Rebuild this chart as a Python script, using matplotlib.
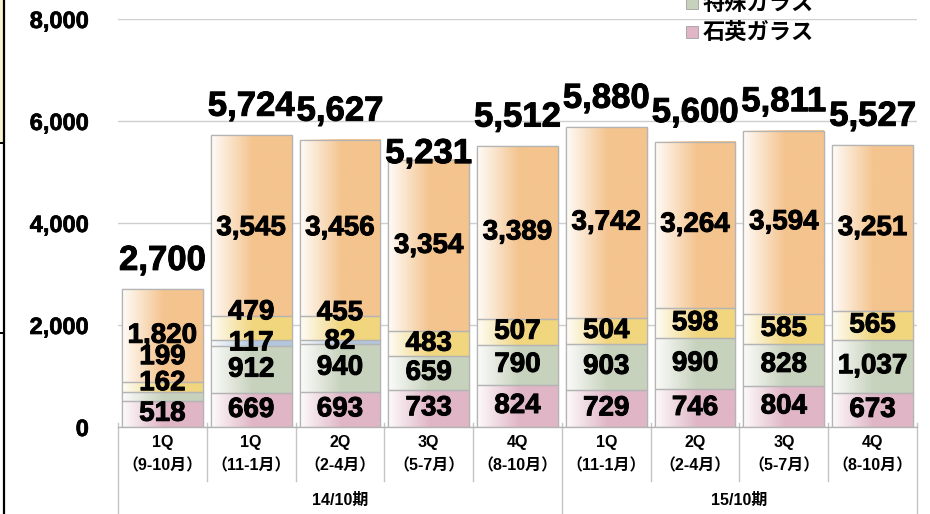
import numpy as np
import matplotlib
matplotlib.use("Agg")
import matplotlib.pyplot as plt
from matplotlib.lines import Line2D
from matplotlib.patches import Rectangle
from matplotlib.colors import to_rgb
import matplotlib.patheffects as pe

plt.rcParams['font.family'] = ['Liberation Sans', 'Noto Sans CJK JP', 'DejaVu Sans']
plt.rcParams['font.weight'] = 'bold'

# ---------------- data ----------------
quarters = ['1Q', '1Q', '2Q', '3Q', '4Q', '1Q', '2Q', '3Q', '4Q']
months = ['（9-10月）', '（11-1月）', '（2-4月）', '（5-7月）', '（8-10月）',
          '（11-1月）', '（2-4月）', '（5-7月）', '（8-10月）']
periods = ['14/10期', '15/10期']
period_start = [0, 5]
period_end = [4, 8]

quartz = [518, 669, 693, 733, 824, 729, 746, 804, 673]        # 石英ガラス
special = [162, 912, 940, 659, 790, 903, 990, 828, 1037]      # 特殊ガラス
other_blue = [0, 117, 82, 0, 0, 0, 0, 0, 0]
other_yellow = [199, 479, 455, 483, 507, 504, 598, 585, 565]
other_orange = [1820, 3545, 3456, 3354, 3389, 3742, 3264, 3594, 3251]
totals = [2700, 5724, 5627, 5231, 5512, 5880, 5600, 5811, 5527]

yticks = [0, 2000, 4000, 6000, 8000]

series = [quartz, special, other_blue, other_yellow, other_orange]
colors = ['#e0b6c6', '#c7d2bd', '#b3c7df', '#f1d67e', '#f4c48e']

# label nudges (data units) for crowded small segments: (bar index, series index) -> shift
label_shift = {(0, 1): 260, (0, 3): 590, (1, 3): 310, (2, 3): 290, (1, 4): -50}
# total label offsets in points (default 14); the 3Q total sits lower in the source
total_offset = {3: -2}

# ---------------- figure ----------------
W, H = 930, 514
fig = plt.figure(figsize=(W / 100, H / 100), dpi=100)
ax = fig.add_axes([118 / W, (H - 427) / H, 799 / W, 408 / H])

heavy = [pe.withStroke(linewidth=0.7, foreground='black')]

x = np.arange(len(quarters))
bw = 0.91
bottom = np.zeros(len(x))
containers = []
for vals, col in zip(series, colors):
    vals = np.array(vals, dtype=float)
    bc = ax.bar(x, vals, bw, bottom=bottom, color=col, edgecolor='#b4b4b4',
                linewidth=0.9, zorder=2)
    containers.append((bc, col, vals, bottom.copy()))
    bottom = bottom + vals

# gradient fill on each segment
t = np.linspace(0, 1, 200)
f = np.clip(0.06 + t / 0.55, 0, 1)
for bc, col, vals, bot in containers:
    c = np.array(to_rgb(col))
    grad = (1 - f)[:, None] * np.ones(3) + f[:, None] * c
    img = grad[None, :, :]
    for p in bc.patches:
        if p.get_height() <= 0:
            continue
        x0, y0 = p.get_x(), p.get_y()
        ax.imshow(img, extent=(x0, x0 + p.get_width(), y0, y0 + p.get_height()),
                  aspect='auto', zorder=2.1, interpolation='bilinear')
        ax.add_patch(Rectangle((x0, y0), p.get_width(), p.get_height(),
                               facecolor='none', edgecolor='#b4b4b4',
                               linewidth=0.9, zorder=2.2))

# segment labels
for si, (bc, col, vals, bot) in enumerate(containers):
    for i, (v, b) in enumerate(zip(vals, bot)):
        if v <= 0:
            continue
        yc = b + v / 2 + label_shift.get((i, si), 0)
        ax.text(x[i], yc, f'{int(v):,}', ha='center', va='center',
                fontsize=20, fontweight='bold', color='black', zorder=5,
                path_effects=heavy)

# totals
for i, tot in enumerate(totals):
    ax.annotate(f'{tot:,}', xy=(x[i], bottom[i]), xytext=(0, total_offset.get(i, 14)),
                textcoords='offset points', ha='center', va='baseline',
                fontsize=25, fontweight='bold', color='black',
                annotation_clip=False, zorder=5, path_effects=heavy)

ax.set_xlim(-0.5, len(x) - 0.5)
ax.set_ylim(0, 8000)
ax.set_yticks(yticks)
ax.set_yticklabels([f'{v:,}' for v in yticks], fontsize=17, fontweight='bold')
for lbl in ax.get_yticklabels():
    lbl.set_path_effects([pe.withStroke(linewidth=0.5, foreground='black')])
ax.tick_params(axis='y', length=0, pad=21)
ax.set_xticks([])
for s in ['top', 'right', 'left']:
    ax.spines[s].set_visible(False)
ax.spines['bottom'].set_color('#b4b4b4')
ax.spines['bottom'].set_linewidth(1.0)
ax.yaxis.grid(True, color='#cfcfcf', linewidth=1.0, zorder=0)
ax.set_axisbelow(True)

# category labels and separators (below the axis, in pixel-based offsets)
trans = ax.get_xaxis_transform()
def ypix(py):
    # convert figure pixel row (from top) to axes y fraction
    return ((H - py) / H - (H - 427) / H) / (408 / H)

for i in range(len(x)):
    ax.text(x[i], ypix(443), quarters[i], transform=trans, ha='center', va='center',
            fontsize=11.5, fontweight='bold', clip_on=False)
    ax.text(x[i], ypix(466), months[i], transform=trans, ha='center', va='center',
            fontsize=11.5, fontweight='bold', clip_on=False)

group_edges = set([period_start[0] - 0.5] + [e + 0.5 for e in period_end])
for b in np.arange(-0.5, len(x), 1.0):
    yend = ypix(514) if b in group_edges else ypix(481)
    ax.add_line(Line2D([b, b], [ypix(423), yend], transform=trans, color='#c4c4c4',
                       linewidth=1.0, clip_on=False))

for name, s, e in zip(periods, period_start, period_end):
    ax.text((s + e) / 2, ypix(500), name, transform=trans, ha='center', va='center',
            fontsize=11.5, fontweight='bold', clip_on=False)

# legend (partly cut off at top, as in the source)
leg_items = [('特殊ガラス', colors[1], 3), ('石英ガラス', colors[0], 32)]
for name, col, py in leg_items:
    fig.patches.append(Rectangle((686 / W, (H - py - 6) / H), 12 / W, 12 / H,
                                 transform=fig.transFigure, facecolor=col,
                                 edgecolor='#a0a0a0', linewidth=0.6))
    fig.text(703 / W, (H - py) / H, name, ha='left', va='center', fontsize=16,
             fontweight='bold', family=['Noto Sans CJK JP', 'DejaVu Sans'])

# left border artefacts
fig.patches.append(Rectangle((0, (H - 143) / H), 3 / W, 143 / H, transform=fig.transFigure,
                             facecolor='#fbf3cf', edgecolor='none'))
fig.lines.append(Line2D([3.5 / W, 3.5 / W], [0, 1], transform=fig.transFigure,
                        color='black', linewidth=1.6))
for py in [143, 333]:
    fig.lines.append(Line2D([0, 4 / W], [(H - py) / H, (H - py) / H],
                            transform=fig.transFigure, color='black', linewidth=1.4))

fig.savefig('out.png', dpi=100)
